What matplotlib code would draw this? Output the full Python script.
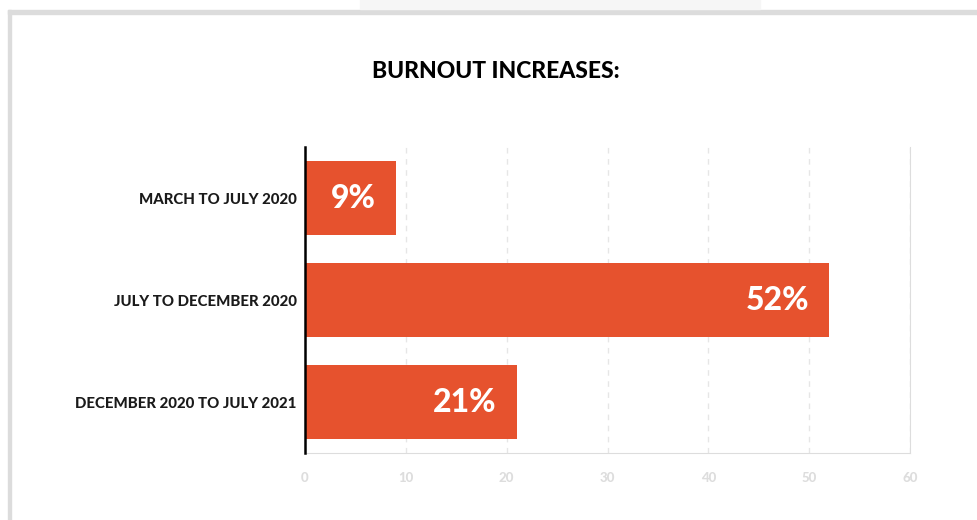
import matplotlib.pyplot as plt
from matplotlib.patches import Rectangle

categories = ['MARCH TO JULY 2020', 'JULY TO DECEMBER 2020', 'DECEMBER 2020 TO JULY 2021']
values = [9, 52, 21]
value_labels = ['9%', '52%', '21%']
xticks = [0, 10, 20, 30, 40, 50, 60]

plt.rcParams['font.family'] = ['Lato', 'DejaVu Sans']

fig = plt.figure(figsize=(9.77, 5.2), dpi=100)

# page decoration: light frame and top tab
fig.patches.append(Rectangle((8 / 977, 0), 3 / 977, 1 - 10 / 520, transform=fig.transFigure,
                             color='#dcdcdc', zorder=0))
fig.patches.append(Rectangle((8 / 977, 1 - 14 / 520), 1, 4 / 520, transform=fig.transFigure,
                             color='#dcdcdc', zorder=0))
fig.patches.append(Rectangle((360 / 977, 1 - 9 / 520), 400 / 977, 9 / 520, transform=fig.transFigure,
                             color='#f6f6f6', zorder=0))

ax = fig.add_axes([305 / 977, 67 / 520, 605 / 977, 306 / 520])

y = list(range(len(categories)))
ax.barh(y, values, height=0.725, color='#e6522e', zorder=3)

for yi, v, lab in zip(y, values, value_labels):
    ax.text(v - 2.0, yi, lab, ha='right', va='center', color='white',
            fontsize=23, fontweight='black', zorder=4)

ax.set_xlim(0, 60)
ax.set_ylim(len(categories) - 0.5, -0.5)
ax.set_yticks(y)
ax.set_yticklabels(categories, fontsize=10.8, fontweight='black', color='#1a1a1a')
ax.set_xticks(xticks)
ax.set_xticklabels([str(t) for t in xticks], fontsize=9.5, fontweight='black', color='#dddddd')
ax.tick_params(axis='y', length=0, pad=6)
ax.tick_params(axis='x', length=0, pad=14)

ax.grid(axis='x', color='#e6e6e6', linestyle=(0, (4, 4)), linewidth=1, zorder=1)
ax.spines['top'].set_visible(False)
ax.spines['right'].set_color('#dddddd')
ax.spines['bottom'].set_color('#dddddd')
ax.spines['left'].set_color('black')
ax.spines['left'].set_linewidth(1.8)
ax.spines['left'].set_zorder(5)

fig.text(496 / 977, 1 - 72 / 520, 'BURNOUT INCREASES:', ha='center', va='center',
         fontsize=16.5, fontweight='black', color='black')

fig.savefig('out.png', dpi=100)
